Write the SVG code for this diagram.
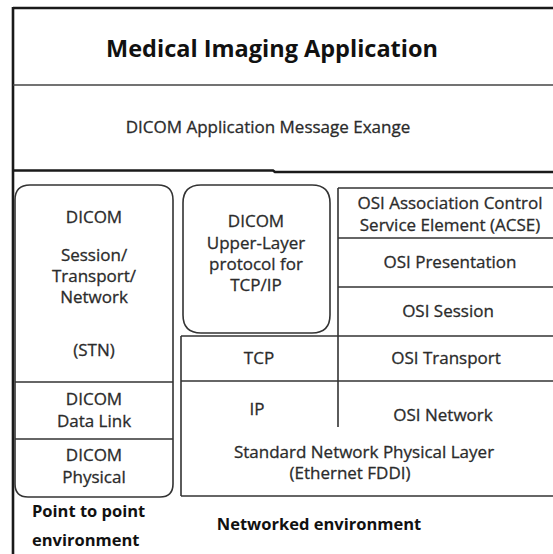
<svg xmlns="http://www.w3.org/2000/svg" width="553" height="554" viewBox="0 0 553 554">
<style>
  .t { font-family: "Open Sans", "Liberation Sans", sans-serif; font-size: 17px; fill: #2b2b2b; stroke: #2b2b2b; stroke-width: 0.3; text-anchor: middle; }
  .b { font-family: "Open Sans", "Liberation Sans", sans-serif; font-weight: bold; fill: #111; }
  .ln { stroke: #444; stroke-width: 1.6; fill: none; }
  .thick { stroke: #1a1a1a; stroke-width: 2.6; fill: none; }
  .box { stroke: #333; stroke-width: 1.6; fill: none; }
</style>
<rect x="0" y="0" width="553" height="554" fill="#ffffff"/>
<g id="frame">
  <line class="thick" x1="13" y1="8" x2="553" y2="8"/>
  <line class="thick" x1="13" y1="7" x2="13" y2="554"/>
  <line class="ln" x1="13" y1="85" x2="553" y2="85" stroke="#666"/>
  <path class="thick" d="M13 170.5 H273 L275 172 H553"/>
</g>
<g id="app">
  <text class="b" x="272" y="57" font-size="23.5" text-anchor="middle">Medical Imaging Application</text>
</g>
<g id="msg">
  <text class="t" x="268" y="133" font-size="17.5">DICOM Application Message Exange</text>
</g>
<g id="stn">
  <path class="box" d="M30 185 H158 Q173 185 173 200 V484 Q173 497 160 497 H28 Q15 497 15 484 V200 Q15 185 30 185 Z"/>
  <line class="box" x1="15" y1="382" x2="173" y2="382"/>
  <line class="box" x1="15" y1="439" x2="173" y2="439"/>
  <text class="t" x="94" y="223">DICOM</text>
  <text class="t" x="94" y="261">Session/</text>
  <text class="t" x="94" y="282">Transport/</text>
  <text class="t" x="94" y="303">Network</text>
  <text class="t" x="94" y="356">(STN)</text>
</g>
<g id="datalink">
  <text class="t" x="94" y="405">DICOM</text>
  <text class="t" x="94" y="427">Data Link</text>
</g>
<g id="physical">
  <text class="t" x="94" y="461">DICOM</text>
  <text class="t" x="94" y="483">Physical</text>
</g>
<g id="upper">
  <path class="box" d="M201 185 H312 Q330 185 330 203 V315 Q330 333 312 333 H201 Q183 333 183 315 V203 Q183 185 201 185 Z"/>
  <text class="t" x="256" y="227">DICOM</text>
  <text class="t" x="256" y="249">Upper-Layer</text>
  <text class="t" x="256" y="270">protocol for</text>
  <text class="t" x="256" y="291">TCP/IP</text>
</g>
<g id="osi">
  <line class="box" x1="338" y1="188" x2="553" y2="188"/>
  <line class="box" x1="338" y1="188" x2="338" y2="427"/>
  <line class="box" x1="338" y1="238" x2="553" y2="238"/>
  <line class="box" x1="338" y1="287" x2="553" y2="287"/>
  <text class="t" x="450" y="209">OSI Association Control</text>
  <text class="t" x="450" y="231">Service Element (ACSE)</text>
  <text class="t" x="450" y="268">OSI Presentation</text>
  <text class="t" x="448" y="317">OSI Session</text>
</g>
<g id="network">
  <line class="box" x1="181" y1="336" x2="553" y2="336"/>
  <line class="box" x1="181" y1="336" x2="181" y2="496"/>
  <line class="box" x1="181" y1="381" x2="553" y2="381"/>
  <line class="box" x1="181" y1="496" x2="553" y2="496"/>
  <text class="t" x="259" y="364">TCP</text>
  <text class="t" x="446" y="364">OSI Transport</text>
  <text class="t" x="257" y="415">IP</text>
  <text class="t" x="443" y="421">OSI Network</text>
  <text class="t" x="364" y="458">Standard Network Physical Layer</text>
  <text class="t" x="350" y="479">(Ethernet FDDI)</text>
</g>
<g id="labels">
  <text class="b" x="32" y="517" font-size="16.5">Point to point</text>
  <text class="b" x="32" y="546" font-size="16.5">environment</text>
  <text class="b" x="319" y="530" font-size="16.5" text-anchor="middle">Networked environment</text>
</g>
</svg>
